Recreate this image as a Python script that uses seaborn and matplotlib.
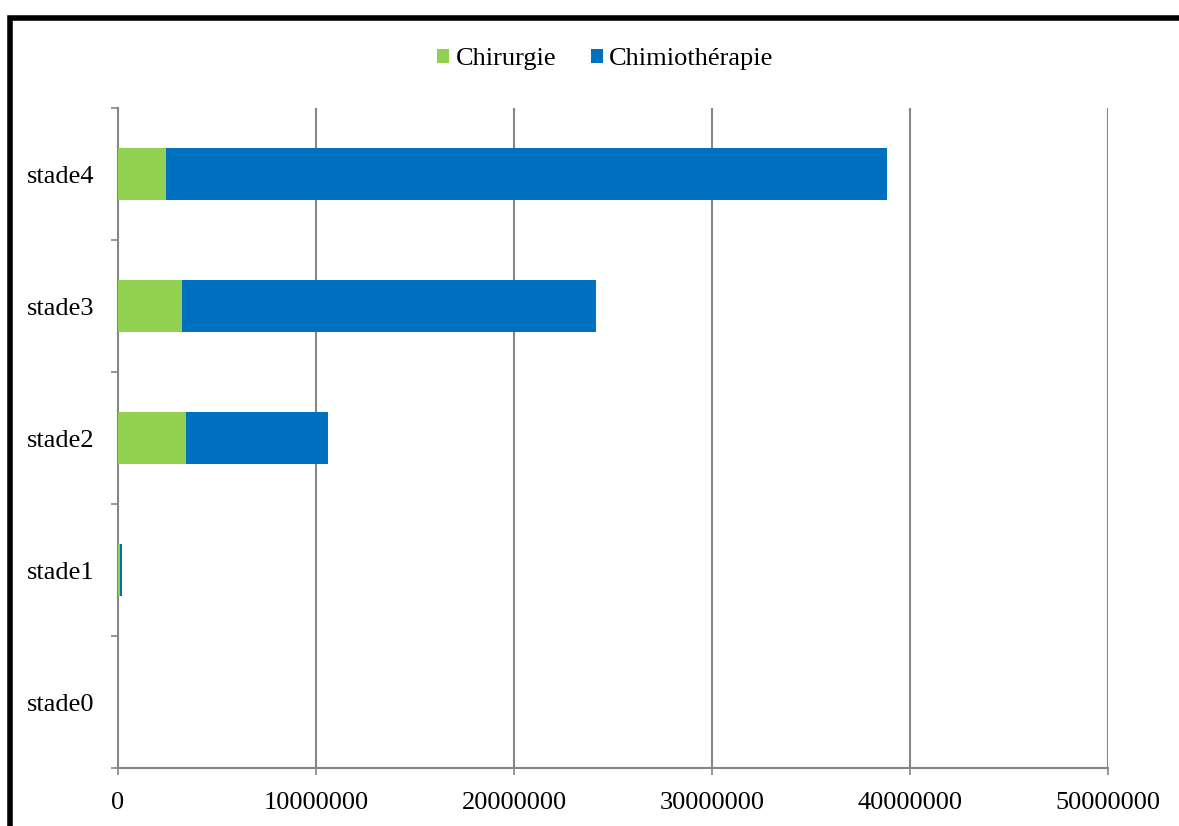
import matplotlib
matplotlib.use("Agg")
import matplotlib.pyplot as plt
import seaborn as sns
import pandas as pd
from matplotlib.patches import Patch, Rectangle

# Costs per stage (stacked: surgery + chemotherapy)
stades = ["stade4", "stade3", "stade2", "stade1", "stade0"]
chirurgie = [2400000, 3250000, 3420000, 100000, 0]
chimiotherapie = [36450000, 20890000, 7170000, 100000, 0]
series_names = ["Chirurgie", "Chimiothérapie"]
x_ticks = [0, 10000000, 20000000, 30000000, 40000000, 50000000]

green = "#92D050"
blue = "#0070C0"
grey = "#868686"

df = pd.DataFrame({
    "stade": stades,
    "chirurgie": chirurgie,
    "total": [a + b for a, b in zip(chirurgie, chimiotherapie)],
})

sns.set_style("white")
plt.rcParams["font.family"] = ["Liberation Serif", "DejaVu Serif"]
plt.rcParams["font.size"] = 19
plt.rcParams["text.color"] = "black"
plt.rcParams["xtick.labelcolor"] = "black"
plt.rcParams["ytick.labelcolor"] = "black"

fig = plt.figure(figsize=(11.79, 8.26), dpi=100)
ax = fig.add_axes([0.1001, 0.0702, 0.8397, 0.7990])

# Full bar in blue, surgery share overlaid in green from zero
sns.barplot(data=df, y="stade", x="total", order=stades, orient="h",
            color=blue, width=0.4, saturation=1, linewidth=0, ax=ax, zorder=3)
sns.barplot(data=df, y="stade", x="chirurgie", order=stades, orient="h",
            color=green, width=0.4, saturation=1, linewidth=0, ax=ax, zorder=4)

ax.set_xlim(0, 50000000)
ax.set_ylim(4.5, -0.5)
ax.set_xticks(x_ticks)
ax.set_xticklabels([str(v) for v in x_ticks])
ax.set_xlabel("")
ax.set_ylabel("")

ax.grid(False)
for v in x_ticks[1:]:
    ax.axvline(v, color=grey, linewidth=1.5, zorder=1)

for side in ["top", "right"]:
    ax.spines[side].set_visible(False)
for side in ["left", "bottom"]:
    ax.spines[side].set_color(grey)
    ax.spines[side].set_linewidth(1.5)

ax.tick_params(axis="x", direction="out", length=5, width=1.2, color=grey,
               pad=12, bottom=True, labelcolor="black")
ax.set_yticks([i - 0.5 for i in range(len(stades) + 1)], minor=True)
ax.tick_params(axis="y", which="minor", direction="out", length=5, width=1.2,
               color=grey, left=True)
ax.tick_params(axis="y", which="major", length=0, pad=17, labelcolor="black")

handles = [Patch(facecolor=green, edgecolor="none"),
           Patch(facecolor=blue, edgecolor="none")]
fig.legend(handles, series_names, loc="center", bbox_to_anchor=(0.5136, 0.928),
           ncol=2, frameon=False, handlelength=0.45, handleheight=0.45,
           handletextpad=0.25, columnspacing=1.3, fontsize=19,
           labelcolor="black")

# Outer black frame of the chart area
fig.patches.append(Rectangle((0.0085, -0.05), 1.05, 1.05 - 18 / 826,
                             transform=fig.transFigure, fill=False,
                             edgecolor="black", linewidth=4, zorder=10))

fig.savefig("out.png", dpi=100)
